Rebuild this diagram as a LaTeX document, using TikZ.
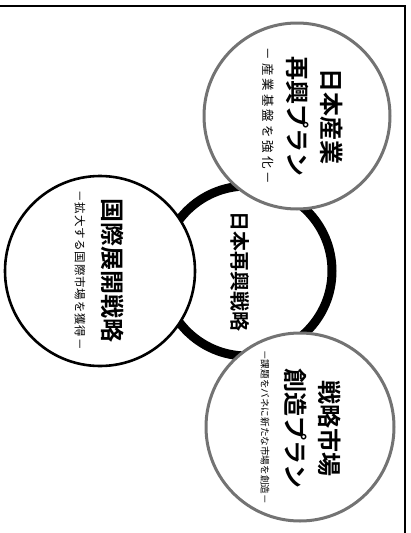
\documentclass[tikz,border=0pt]{standalone}
\usepackage{fontspec}
\setmainfont{Noto Sans CJK JP}[BoldFont={Noto Sans CJK JP Bold}]
\begin{document}
\begin{tikzpicture}[x=1pt,y=-1pt,
  graycirc/.style={circle,draw=black!55,line width=3pt,fill=white,minimum size=#1,inner sep=0pt},
  blackcirc/.style={circle,draw=black,line width=2.6pt,fill=white,minimum size=#1,inner sep=0pt},
  titletxt/.style={rotate=-90,inner sep=0pt,align=center,font=\bfseries\fontsize{24}{34}\selectfont},
  subtxt/.style={rotate=-90,inner sep=0pt,font=\fontsize{#1}{#1}\selectfont}]
\useasboundingbox (0,0) rectangle (410,533);
% frame (top and right edges visible)
\draw[line width=1.5pt] (-5,6) -- (405,6) -- (405,540);
% central ring
\node[circle,draw=black,line width=9pt,minimum size=170pt,inner sep=0pt] (ring) at (247,271) {};
% outer circles
\node[graycirc=186pt] (c1) at (297,116) {};
\node[blackcirc=190pt] (c2) at (100,271) {};
\node[graycirc=188pt] (c3) at (300,427) {};
% texts
\node[titletxt] (t1) at (315,116) {日本産業\\再興プラン};
\node[subtxt=12.5] (s1) at (268,116) {\addfontfeature{LetterSpace=24}－産業基盤を強化－};
\node[titletxt] (t2) at (113,270) {国際展開戦略};
\node[subtxt=11.5] (s2) at (80,270) {\addfontfeature{LetterSpace=7}－拡大する国際市場を獲得－};
\node[titletxt] (t3) at (313,428) {戦略市場\\創造プラン};
\node[subtxt=9.6] (s3) at (265,427) {－課題をバネに新たな市場を創造－};
\node[rotate=-90,inner sep=0pt,font=\bfseries\fontsize{20}{20}\selectfont] (center) at (240,271) {日本再興戦略};
\end{tikzpicture}
\end{document}
